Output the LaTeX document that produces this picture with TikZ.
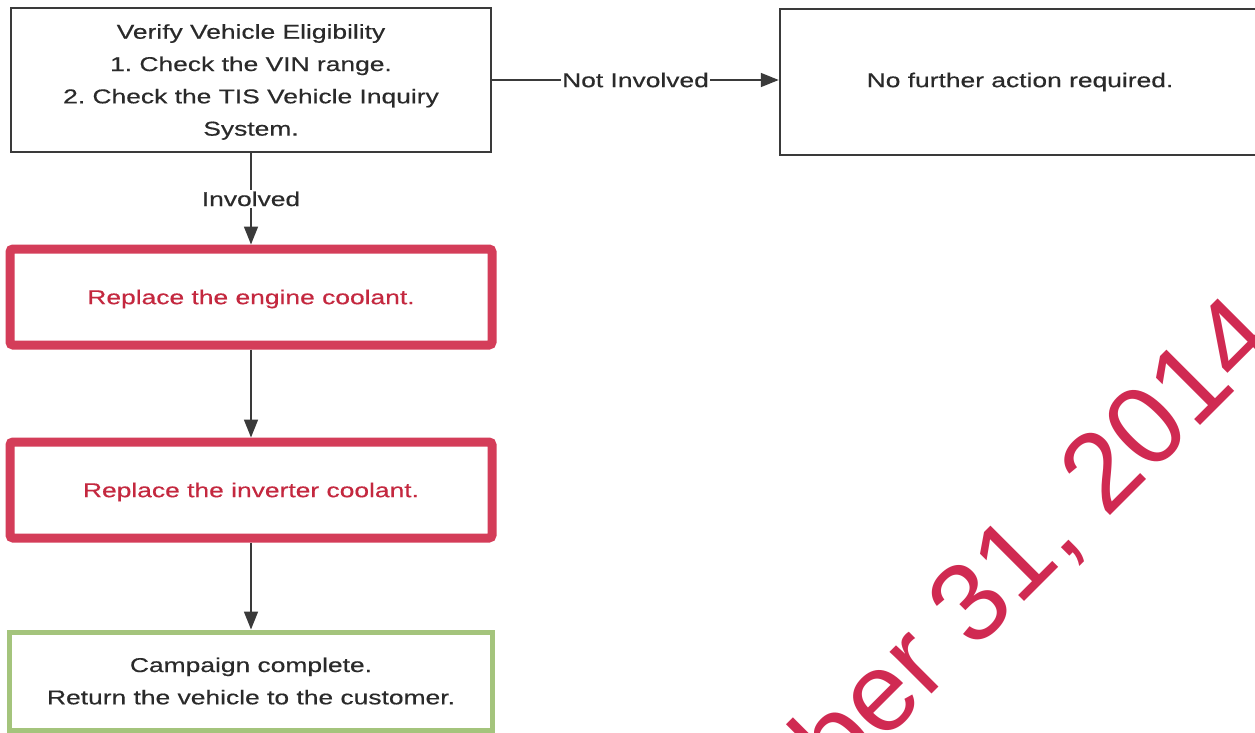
\documentclass[tikz,border=0pt]{standalone}
\usepackage{fontspec}
\setmainfont{Liberation Sans}[FakeStretch=1.32,FakeBold=0.4]
\newfontfamily\wmfont{Liberation Sans}
\usetikzlibrary{arrows.meta}
\frenchspacing
\definecolor{linegray}{HTML}{3A3A3A}
\definecolor{txtgray}{HTML}{2A2A2A}
\definecolor{redborder}{HTML}{D43D59}
\definecolor{redtext}{HTML}{C4283F}
\definecolor{greenborder}{HTML}{A4C47C}
\definecolor{wmred}{HTML}{D02A52}
\newcommand{\lowertext}[1]{\raisebox{-2pt}[\height][\depth]{#1}}
\tikzset{
  txt/.style={font=\fontsize{20}{32.3}\selectfont, text=txtgray, align=center},
  graybox/.style={txt, draw=linegray, line width=2.5pt, inner sep=0pt},
  redbox/.style={txt, text=redtext, draw=redborder, line width=9pt, rounded corners=3pt,
    minimum width=482pt, minimum height=96pt, inner sep=0pt},
  greenbox/.style={txt, draw=greenborder, line width=5pt,
    minimum width=483pt, minimum height=98pt, inner sep=0pt},
  conn/.style={draw=linegray, line width=1.6pt, -{Triangle[length=18pt,width=14pt]}},
  lbl/.style={txt, fill=white, inner sep=1.5pt},
  wm/.style={font=\wmfont\fontsize{112}{112}\selectfont, text=wmred, inner sep=0pt}
}
\begin{document}
\begin{tikzpicture}[x=1pt,y=-1pt]
\useasboundingbox (0,0) rectangle (1255,733);
\clip (0,0) rectangle (1255,733);
\fill[white] (0,0) rectangle (1255,733);
% watermark
\node[wm, rotate=45, anchor=base west] (wmark) at (838,788) {ber 31, 2014};
% boxes
\node[graybox, minimum width=480pt, minimum height=144pt] (verify) at (251,80)
  {\lowertext{\parbox{470pt}{\centering Verify Vehicle Eligibility\\1. Check the VIN range.\\2. Check the TIS Vehicle Inquiry\\System.}}};
\node[graybox, minimum width=480pt, minimum height=146pt] (nofurther) at (1020,82)
  {No further action required.};
\node[redbox] (engine) at (251,297) {\lowertext{Replace the engine coolant.}};
\node[redbox] (inverter) at (251,490) {\lowertext{Replace the inverter coolant.}};
\node[greenbox] (done) at (251,681) {Campaign complete.\\Return the vehicle to the customer.};
% connectors
\draw[conn] (verify.east) -- node[lbl] {Not Involved} (verify.east -| nofurther.west);
\draw[conn] (verify.south) -- node[lbl, pos=0.5] {Involved} (engine.north);
\draw[conn] (engine.south) -- (inverter.north);
\draw[conn] (inverter.south) -- (done.north);
\end{tikzpicture}
\end{document}
